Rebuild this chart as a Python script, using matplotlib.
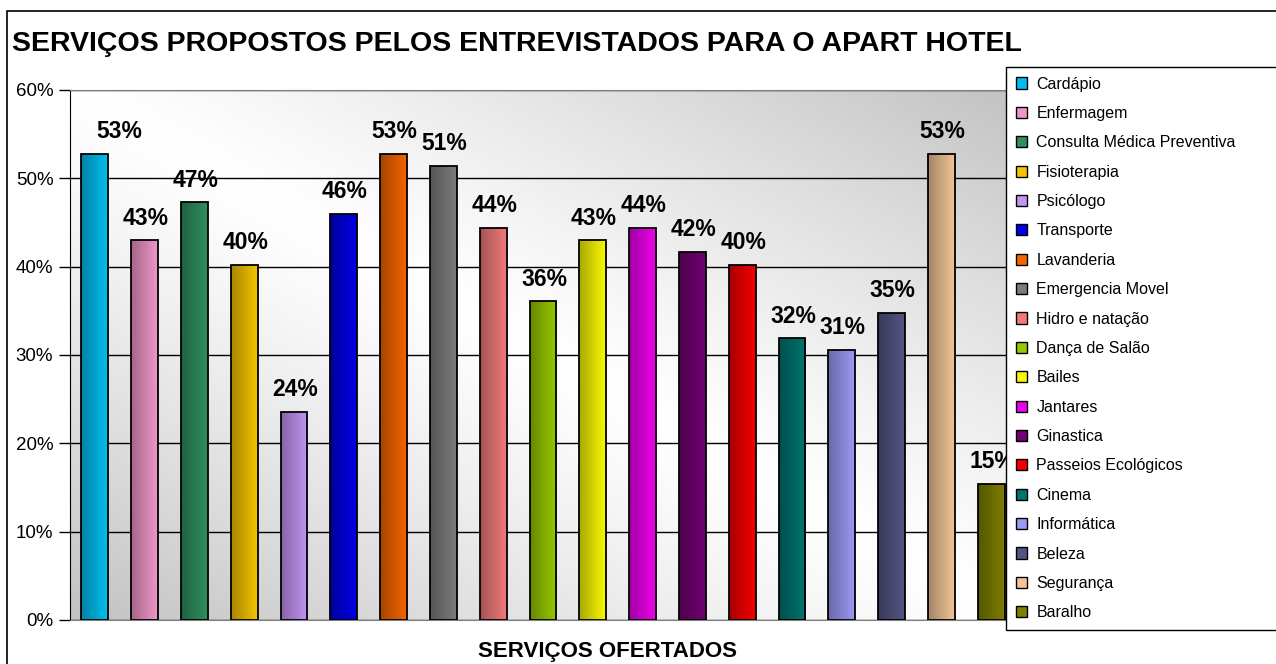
import numpy as np
import matplotlib
matplotlib.use('Agg')
import matplotlib.pyplot as plt
from matplotlib.patches import Patch, Rectangle
from matplotlib.colors import to_rgb

plt.rcParams['font.family'] = ['Liberation Sans', 'DejaVu Sans']

TITLE = 'SERVIÇOS PROPOSTOS PELOS ENTREVISTADOS PARA O APART HOTEL'
XLABEL = 'SERVIÇOS OFERTADOS'

SERVICOS = ['Cardápio', 'Enfermagem', 'Consulta Médica Preventiva', 'Fisioterapia',
            'Psicólogo', 'Transporte', 'Lavanderia', 'Emergencia Movel',
            'Hidro e natação', 'Dança de Salão', 'Bailes', 'Jantares', 'Ginastica',
            'Passeios Ecológicos', 'Cinema', 'Informática', 'Beleza', 'Segurança',
            'Baralho']
PERCENT = [52.8, 43.0, 47.3, 40.2, 23.6, 46.0, 52.8, 51.4, 44.4, 36.1,
           43.0, 44.4, 41.7, 40.2, 31.9, 30.6, 34.8, 52.8, 15.4]
CORES = ['#00bff0', '#f096c8', '#2f8f5f', '#f4c400', '#c494f4', '#0000e6',
         '#f46400', '#7c7c7c', '#f27a7a', '#96c800', '#f8f800', '#ec00ec',
         '#720072', '#f40000', '#007470', '#9a9af4', '#545484', '#f2c496',
         '#7e7e00']
YTICKS = [0, 10, 20, 30, 40, 50, 60]

W, H = 1276, 664
fig = plt.figure(figsize=(W / 100, H / 100), dpi=100)
ax = fig.add_axes([70 / W, 44 / H, 946 / W, 530 / H])

# fundo com degrade diagonal (cinza nos cantos, branco no meio)
u = np.linspace(0, 1, 400)
v = np.linspace(0, 1, 200)
U, V = np.meshgrid(u, v)
s = np.abs(U + V - 1.0)
g = 1.0 - 0.24 * s ** 1.2
bg = np.dstack([g, g, g])
ax.imshow(bg, extent=[0, 1, 0, 1], transform=ax.transAxes, origin='lower',
          aspect='auto', zorder=0, interpolation='bilinear')
ax.patch.set_visible(False)

x = np.arange(len(SERVICOS))
largura = 0.54
barras = ax.bar(x, PERCENT, width=largura, color=CORES, edgecolor='none', zorder=2)

# degrade horizontal dentro de cada barra
for b, cor in zip(barras, CORES):
    r, gg, bb = to_rgb(cor)
    t = np.linspace(0.68, 1.0, 64)
    grad = np.clip(np.array([[r * k, gg * k, bb * k] for k in t]), 0, 1)[None, :, :]
    im = ax.imshow(grad, extent=[b.get_x(), b.get_x() + b.get_width(), 0, b.get_height()],
                   aspect='auto', zorder=2.5, interpolation='bilinear')
    im.set_clip_path(b)

ax.bar(x, PERCENT, width=largura, facecolor='none', edgecolor='black', linewidth=1.3, zorder=3)

for i, val in enumerate(PERCENT):
    dx = 24 if i == 0 else 1
    ax.annotate('%.0f%%' % val, xy=(i, val), xytext=(dx, 22), textcoords='offset pixels',
                ha='center', va='center', fontsize=16.5, fontweight='bold', zorder=4)

ax.set_xlim(-0.5, len(SERVICOS) - 0.5)
ax.set_ylim(0, 60)
ax.set_yticks(YTICKS)
ax.set_yticklabels(['%d%%' % t for t in YTICKS], fontsize=13.5)
ax.set_xticks([])
ax.yaxis.grid(True, color='black', linewidth=1.0)
ax.set_axisbelow(True)
ax.tick_params(axis='y', length=8, width=1, pad=4, direction='out')
ax.spines['left'].set_color('black')
ax.spines['bottom'].set_color('#808080')
ax.spines['top'].set_color('#808080')
ax.spines['right'].set_visible(False)

fig.text(12 / W, 1 - 44 / H, TITLE, ha='left', va='center', fontsize=20.5, fontweight='bold')
fig.text(608 / W, 1 - 651 / H, XLABEL, ha='center', va='center', fontsize=16, fontweight='bold')

# borda da area do grafico
fig.add_artist(Rectangle((7 / W, -0.1), 1.2, 1.1 - 11 / H, transform=fig.transFigure,
                         fill=False, edgecolor='black', linewidth=1.2))

handles = [Patch(facecolor=c, edgecolor='black', linewidth=1) for c in CORES]
leg = fig.legend(handles, SERVICOS, loc='upper left',
                 bbox_to_anchor=(1006 / W, 1 - 631 / H, 300 / W, 564 / H), mode='expand',
                 frameon=True, fancybox=False, edgecolor='black', fontsize=11.5,
                 handlelength=0.7, handleheight=0.7, handletextpad=0.6,
                 labelspacing=0.9, borderpad=0.6, borderaxespad=0)
leg.get_frame().set_linewidth(1)
leg.get_frame().set_alpha(1)

fig.savefig('out.png', dpi=100)
